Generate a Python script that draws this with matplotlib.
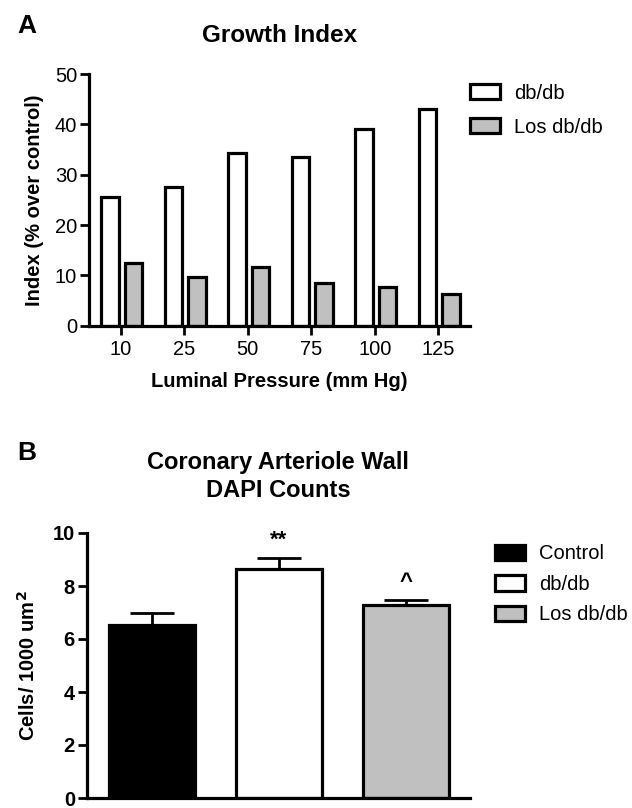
import matplotlib
matplotlib.use("Agg")
import matplotlib.pyplot as plt
import numpy as np

plt.rcParams['font.family'] = ['Liberation Sans', 'DejaVu Sans']

# ---- Panel A data ----
pressures = ['10', '25', '50', '75', '100', '125']
growth_dbdb = [25.6, 27.5, 34.3, 33.6, 39.1, 43.0]
growth_los = [12.5, 9.7, 11.7, 8.4, 7.7, 6.2]
a_series = ['db/db', 'Los db/db']

# ---- Panel B data ----
groups_b = ['Control', 'db/db', 'Los db/db']
dapi_mean = [6.53, 8.65, 7.27]
dapi_sem = [0.46, 0.42, 0.21]
dapi_marks = ['', '**', '^']

W, H = 632, 808
fig = plt.figure(figsize=(W / 100, H / 100), dpi=100)

def fx(px):
    return px / W

def fy(py):
    return 1 - py / H

LW = 2.3
GRAY = '#c0c0c0'

# ---------------- Panel A ----------------
axA = fig.add_axes([fx(89), fy(325.7), fx(470 - 89), (325.7 - 74) / H])
x = np.arange(len(pressures))
bw = 0.27
b1 = axA.bar(x - 0.17, growth_dbdb, bw, color='white', edgecolor='black', linewidth=LW, label=a_series[0])
b2 = axA.bar(x + 0.20, growth_los, bw, color=GRAY, edgecolor='black', linewidth=LW, label=a_series[1])
axA.set_xlim(-0.5, 5.5)
axA.set_ylim(0, 50)
axA.set_yticks([0, 10, 20, 30, 40, 50])
axA.set_xticks(x)
axA.set_xticklabels(pressures)
for s in ['top', 'right']:
    axA.spines[s].set_visible(False)
for s in ['left', 'bottom']:
    axA.spines[s].set_linewidth(LW)
axA.tick_params(axis='both', direction='out', length=6.5, width=2.0, labelsize=14.5, pad=2)
axA.tick_params(axis='x', pad=4)
axA.set_xlabel('Luminal Pressure (mm Hg)', fontsize=14.5, fontweight='bold', labelpad=9)
axA.set_ylabel('Index (% over control)', fontsize=14.5, fontweight='bold', labelpad=8)
axA.set_title('Growth Index', fontsize=17.5, fontweight='bold', pad=23)
legA = axA.legend(handles=[b1, b2], loc='upper left', bbox_to_anchor=(1.0, 0.962),
                  frameon=False, fontsize=14.5, handlelength=1.5, handleheight=0.8,
                  handletextpad=0.7, labelspacing=0.75, borderpad=0, borderaxespad=0)
fig.text(fx(17), fy(33), 'A', fontsize=19, fontweight='bold', ha='left', va='baseline')

# ---------------- Panel B ----------------
axB = fig.add_axes([fx(86.7), fy(798), fx(470 - 86.7), (798 - 533) / H])
xb = np.arange(len(groups_b))
colors_b = ['black', 'white', GRAY]
bars_b = axB.bar(xb, dapi_mean, 0.675, color=colors_b, edgecolor='black', linewidth=LW)
axB.errorbar(xb, dapi_mean, yerr=[np.zeros(len(dapi_sem)), dapi_sem], fmt='none',
             ecolor='black', elinewidth=2.0, capsize=15.5, capthick=2.0, zorder=1)
for xi, m, e, t in zip(xb, dapi_mean, dapi_sem, dapi_marks):
    if t:
        axB.annotate(t, (xi, m + e), xytext=(0, 5), textcoords='offset points',
                     ha='center', va='bottom', fontsize=16, fontweight='bold')
axB.set_xlim(-0.51, 2.5)
axB.set_ylim(0, 10)
axB.set_yticks([0, 2, 4, 6, 8, 10])
axB.set_xticks([])
for s in ['top', 'right']:
    axB.spines[s].set_visible(False)
for s in ['left', 'bottom']:
    axB.spines[s].set_linewidth(LW)
axB.tick_params(axis='y', direction='out', length=6.5, width=2.0, labelsize=14.5, pad=2)
for lab in axB.get_yticklabels():
    lab.set_fontweight('bold')
axB.set_ylabel('Cells/ 1000 um$^\\mathbf{2}$', fontsize=14.5, fontweight='bold', labelpad=10)
axB.set_title('Coronary Arteriole Wall\nDAPI Counts', fontsize=17, fontweight='bold',
              pad=26, linespacing=1.25)
handles_b = [bars_b[i] for i in range(3)]
axB.legend(handles=handles_b, labels=groups_b, loc='upper left', bbox_to_anchor=(1.065, 0.957),
           frameon=False, fontsize=14.5, handlelength=1.5, handleheight=0.8,
           handletextpad=0.7, labelspacing=0.57, borderpad=0, borderaxespad=0)
fig.text(fx(17), fy(460), 'B', fontsize=19, fontweight='bold', ha='left', va='baseline')

fig.savefig('out.png', dpi=100)
